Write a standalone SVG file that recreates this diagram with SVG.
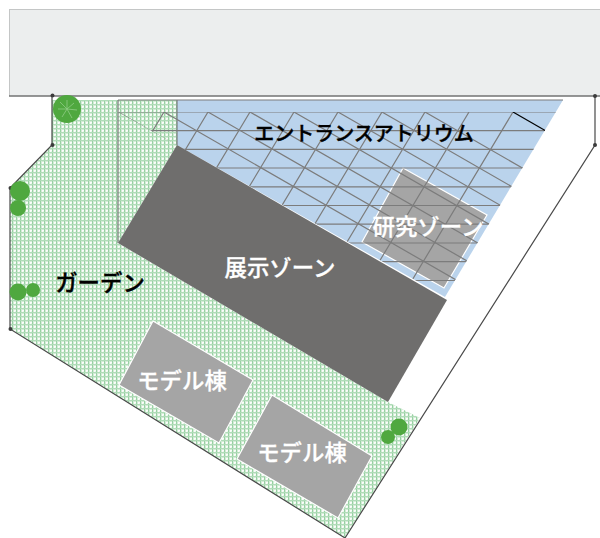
<svg xmlns="http://www.w3.org/2000/svg" width="600" height="538" viewBox="0 0 600 538">
<style>
.site{fill:none;stroke:#4a4a4a;stroke-width:1.2}
.dot{fill:#3c3c3c}
.grid{stroke:#7c7c7c;stroke-width:1.200;fill:none}
.zone{fill:#a5a5a5;stroke:#fff;stroke-width:1.2}
.tree{fill:#4fa83f}
text{font-family:"Noto Sans CJK JP","Noto Sans",sans-serif;font-weight:500;font-size:22.400px;text-anchor:middle}
.w{fill:#fff;stroke:#fff;stroke-width:.3}
.b{fill:#000;font-weight:500;stroke:#000;stroke-width:.4}
</style>
<defs>
<pattern id="hatch" width="4" height="4" patternUnits="userSpaceOnUse">
<rect width="4" height="4" fill="#e9f5ea"/>
<rect x="2" width="1" height="4" fill="#fafdfa"/>
<rect y="2" width="4" height="1" fill="#fafdfa"/>
<rect x="1" width="1" height="4" fill="#d3ebd6"/>
<rect y="1" width="4" height="1" fill="#d3ebd6"/>
<rect x="0" width="1" height="4" fill="#98d1a3"/>
<rect y="0" width="4" height="1" fill="#b0dcb8"/>
</pattern>
<clipPath id="atr"><polygon points="118,112 556,112 445,297 177,145"/></clipPath>
</defs>
<rect id="road" x="9.500" y="9.500" width="591" height="86.500" fill="#eceeee" stroke="#c4c6c6"/>
<g id="garden"><polygon points="52,100 177,100 177,145 118,243 388,402 420,418 345,538 10,329 10,188 52,145" fill="url(#hatch)"/></g>
<g id="atrium"><polygon points="177,100 563,100 445,297 177,145" fill="#bad3ec"/></g>
<g id="model1"><polygon class="zone" points="153,321 253,380 219,443 119,385"/><text class="w" x="182" y="389">モデル棟</text></g>
<g id="model2"><polygon class="zone" points="272,395 372,456 338,518 237,459"/><text class="w" x="302" y="461">モデル棟</text></g>
<g id="research"><polygon class="zone" points="403,168 487,215 444,288 362,242"/></g>
<g id="connectors">
<path class="grid" d="M118,100H563M118,100V243M177,100V145"/>
<g clip-path="url(#atr)">
<path class="grid" d="M118,112H560M118,130.700H560M118,149.400H560M118,168H560M118,186.800H560M118,205.500H560M118,224.200H560M118,243H560M118,261.700H560M118,280.500H560"/>
<path class="grid" d="M118,112L518,342M164,112L564,342M208,112L608,342M250,112L650,342M294,112L694,342M338,112L738,342M382,112L782,342M425,112L825,342"/>
<path class="grid" d="M164,112L134,162M208,112L118,262M250,112L130,312M294,112L174,312M338,112L218,312M382,112L262,312M425,112L305,312M469,112L349,312M513,112L393,312"/>
<path d="M513,112L546,131" stroke="#000" stroke-width="1.200" fill="none"/>
</g>
<path class="site" d="M9,96H600M52,96V145L10,188V329L345,538L595,145V96"/>
<g class="dot"><circle cx="52.500" cy="95.500" r="2"/><circle cx="52.500" cy="145" r="2"/><circle cx="10.500" cy="188" r="2"/><circle cx="10.500" cy="329" r="2"/><circle cx="595" cy="96" r="2"/><circle cx="595" cy="145" r="2"/></g>
</g>
<g id="exhibition"><polygon points="177,145 447,300 388,402 118,243" fill="#6f6e6d"/><text class="w" x="280" y="276">展示ゾーン</text></g>
<g id="trees">
<circle class="tree" cx="67" cy="109" r="14"/>
<path d="M67,109L67,100M67,109L60,102M67,109L74,103M67,109L62,117M67,109L72,118M67,109L58,109M67,109L77,110" stroke="#8fcb85" stroke-width=".8" fill="none"/>
<circle class="tree" cx="20" cy="191" r="10"/><circle class="tree" cx="18" cy="208" r="8"/>
<circle class="tree" cx="18" cy="292" r="8.500"/><circle class="tree" cx="33" cy="290" r="7"/>
<circle class="tree" cx="399" cy="427" r="8.500"/><circle class="tree" cx="388" cy="437" r="7"/>
</g>
<g id="labels">
<text class="b" x="364" y="141" style="font-size:20px">エントランスアトリウム</text>
<text class="w" x="428" y="235">研究ゾーン</text>
<text class="b" x="100" y="291">ガーデン</text>
</g>
</svg>
